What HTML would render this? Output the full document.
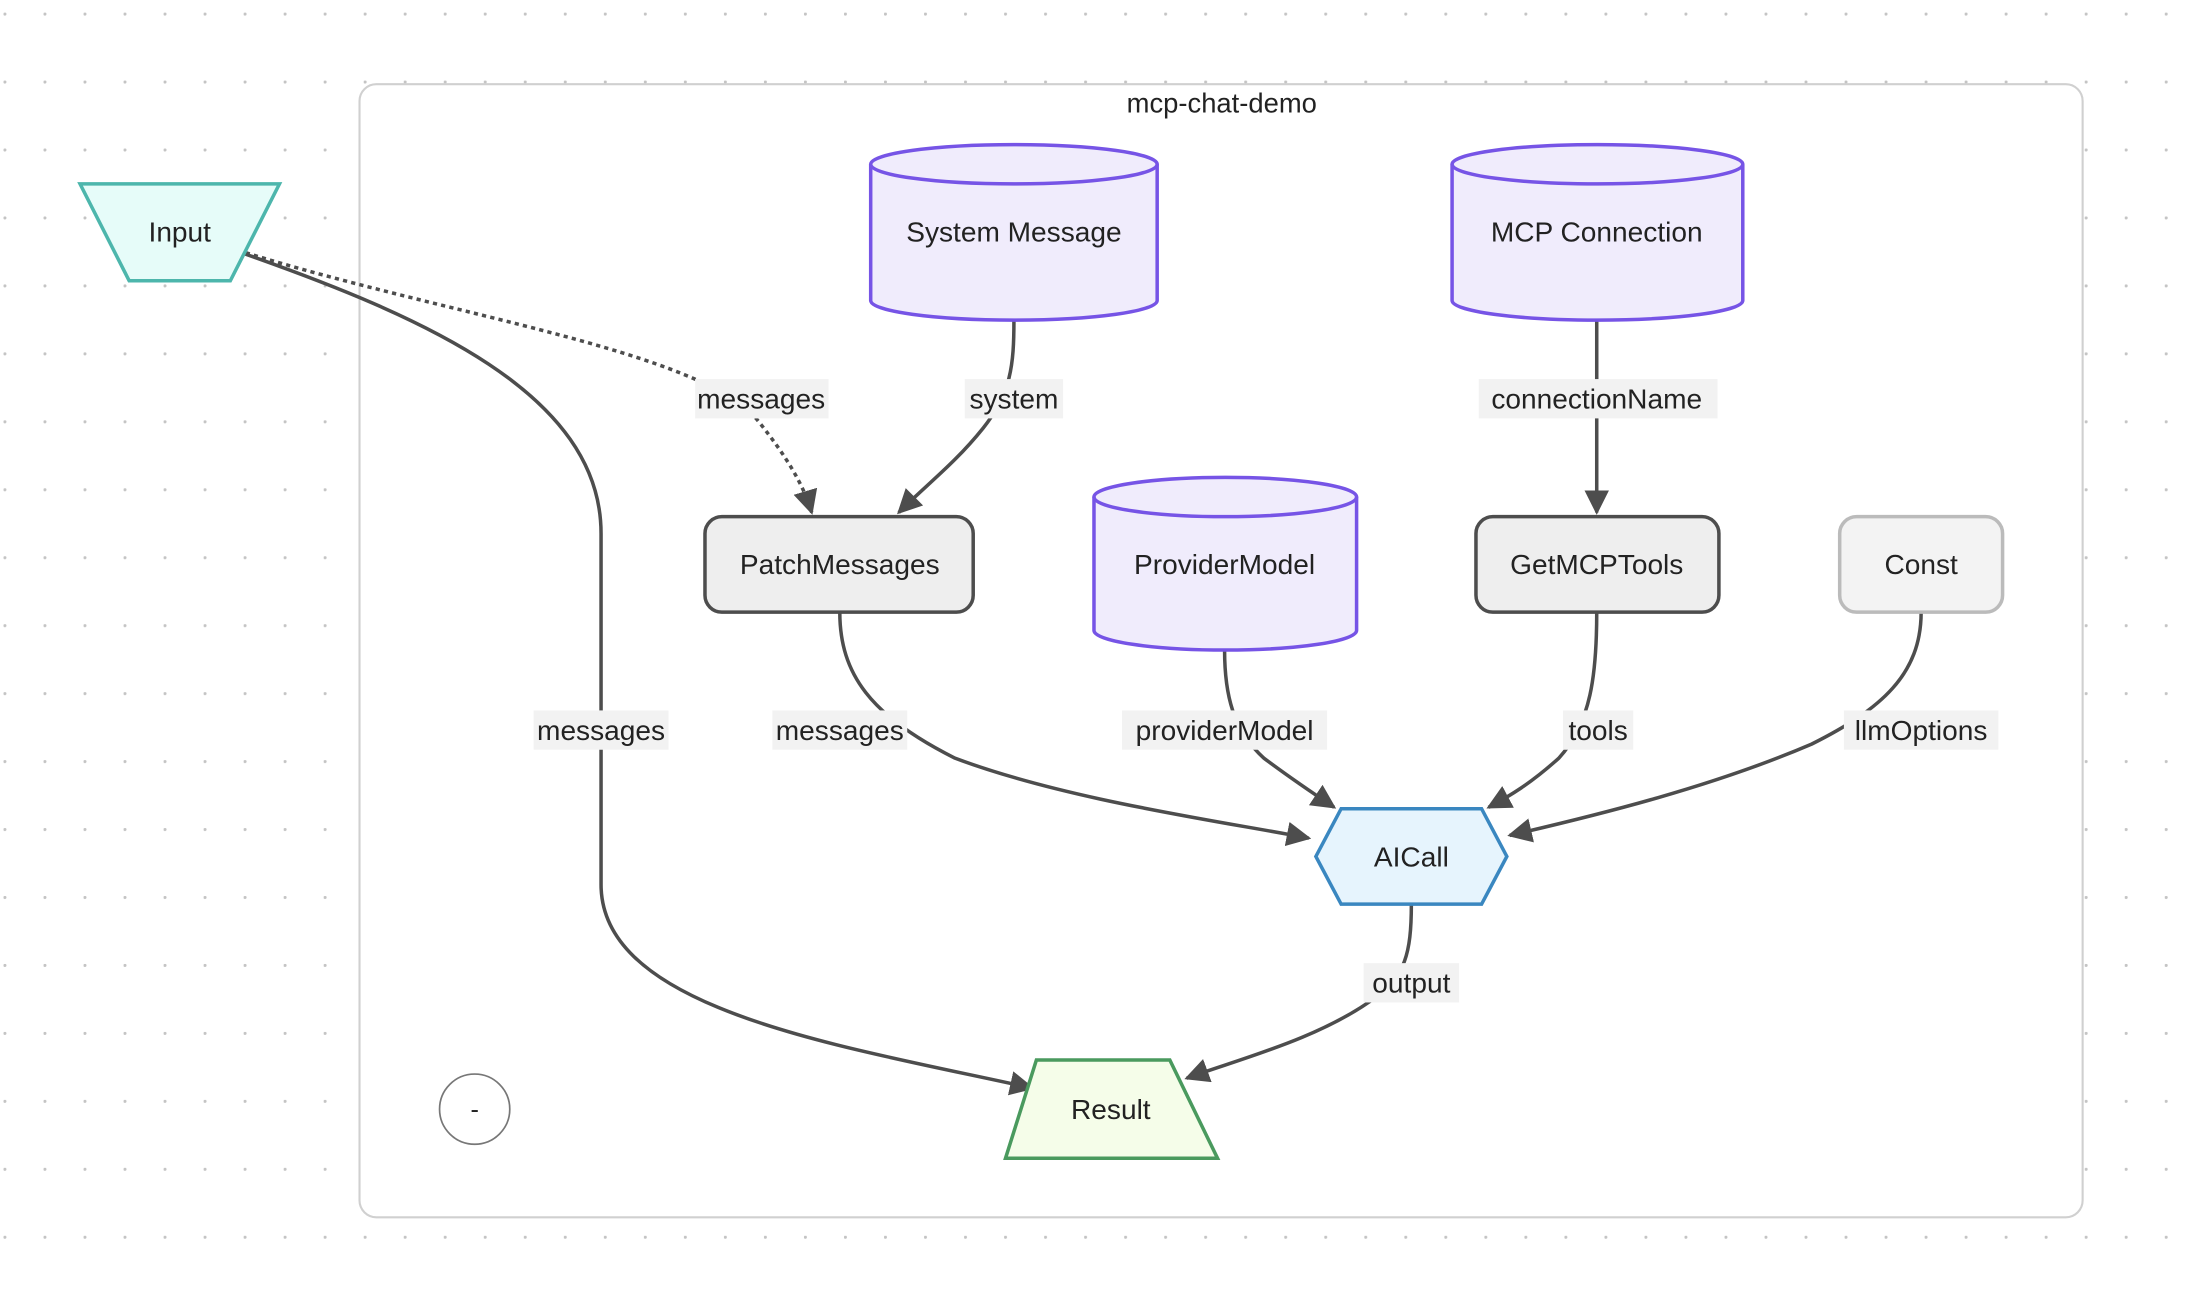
<!DOCTYPE html>
<html><head><meta charset="utf-8"><style>
html,body{margin:0;padding:0;background:#fff;}
svg{display:block;}
text{font-family:"Liberation Sans",sans-serif;fill:#222;}
</style></head><body>
<svg width="2202" height="1298" viewBox="0 0 1568 924.5" preserveAspectRatio="none" xmlns="http://www.w3.org/2000/svg">
<defs>
<pattern id="dots" x="2.5" y="9" width="28.5" height="48.4" patternUnits="userSpaceOnUse">
<circle cx="1" cy="1" r="1.1" fill="#c4c4c4"/>
</pattern>
<marker id="arr" viewBox="0 0 10 10" refX="9" refY="5" markerWidth="7" markerHeight="7" orient="auto">
<path d="M0,0 L10,5 L0,10 z" fill="#4d4d4d"/>
</marker>
</defs>
<rect width="1568" height="924.5" fill="url(#dots)"/>
<rect x="256" y="60" width="1227" height="807" rx="12" fill="#fff" stroke="#d0d0d0" stroke-width="1.5"/>
<text x="870" y="80" font-size="19.5" text-anchor="middle">mcp-chat-demo</text>

<g fill="none" stroke="#4d4d4d" stroke-width="2.5">
<path d="M172,180 C300,225 428,280 428,380 L428,630 C428,720 600,745 735,775" marker-end="url(#arr)"/>
<path d="M175,180 C320,225 500,250 540,300 C560,325 572,345 578,365" stroke-dasharray="3,3" marker-end="url(#arr)"/>
<path d="M722,228 C722,260 720,280 700,305 C680,330 660,345 640,365" marker-end="url(#arr)"/>
<path d="M1137,228 L1137,365" marker-end="url(#arr)"/>
<path d="M598,436 C598,480 620,510 680,540 C760,570 870,585 932,597" marker-end="url(#arr)"/>
<path d="M872,463 C872,495 878,520 900,540 C920,555 935,565 950,575" marker-end="url(#arr)"/>
<path d="M1137,436 C1137,480 1133,515 1110,540 C1090,558 1075,567 1060,575" marker-end="url(#arr)"/>
<path d="M1368,436 C1368,480 1340,505 1290,530 C1220,560 1140,580 1075,595" marker-end="url(#arr)"/>
<path d="M1005,644 C1005,680 1000,695 980,710 C940,740 880,755 845,768" marker-end="url(#arr)"/>
</g>

<polygon points="57,131 199,131 164,200 92,200" fill="#e6fcf9" stroke="#4db6ac" stroke-width="2.5"/>
<text x="128" y="172" font-size="20" text-anchor="middle">Input</text>

<g fill="#f0ecfc" stroke="#7654e6" stroke-width="2.5">
<path d="M620,117 A102,14 0 0 1 824,117 L824,214 A102,14 0 0 1 620,214 Z"/>
<path d="M620,117 A102,14 0 0 0 824,117" fill="none"/>
<path d="M1034,117 A103.5,14 0 0 1 1241,117 L1241,214 A103.5,14 0 0 1 1034,214 Z"/>
<path d="M1034,117 A103.5,14 0 0 0 1241,117" fill="none"/>
<path d="M779,354 A93.5,14 0 0 1 966,354 L966,449 A93.5,14 0 0 1 779,449 Z"/>
<path d="M779,354 A93.5,14 0 0 0 966,354" fill="none"/>
</g>
<text x="722" y="172" font-size="20" text-anchor="middle">System Message</text>
<text x="1137" y="172" font-size="20" text-anchor="middle">MCP Connection</text>
<text x="872" y="409" font-size="20" text-anchor="middle">ProviderModel</text>

<rect x="502" y="368" width="191" height="68" rx="12" fill="#eeeeee" stroke="#4d4d4d" stroke-width="2.5"/>
<text x="598" y="409" font-size="20" text-anchor="middle">PatchMessages</text>
<rect x="1051" y="368" width="173" height="68" rx="12" fill="#eeeeee" stroke="#4d4d4d" stroke-width="2.5"/>
<text x="1137" y="409" font-size="20" text-anchor="middle">GetMCPTools</text>
<rect x="1310" y="368" width="116" height="68" rx="12" fill="#f3f3f3" stroke="#bbbbbb" stroke-width="2.5"/>
<text x="1368" y="409" font-size="20" text-anchor="middle">Const</text>

<polygon points="955,576 1055,576 1073,610 1055,644 955,644 937,610" fill="#e6f4fd" stroke="#3a87c0" stroke-width="2.5"/>
<text x="1005" y="617" font-size="20" text-anchor="middle">AICall</text>

<polygon points="738,755 833,755 867,825 716,825" fill="#f5fde9" stroke="#4a9a5e" stroke-width="2.5"/>
<text x="791" y="797" font-size="20" text-anchor="middle">Result</text>

<circle cx="338" cy="790" r="25" fill="#fff" stroke="#777" stroke-width="1.2"/>
<text x="338" y="796" font-size="18" text-anchor="middle">-</text>

<g fill="#f2f2f2">
<rect x="495" y="270" width="95" height="28"/>
<rect x="687" y="270" width="70" height="28"/>
<rect x="1053" y="270" width="170" height="28"/>
<rect x="380" y="506" width="96" height="28"/>
<rect x="550" y="506" width="96" height="28"/>
<rect x="799" y="506" width="146" height="28"/>
<rect x="1113" y="506" width="50" height="28"/>
<rect x="1313" y="506" width="110" height="28"/>
<rect x="971" y="686" width="68" height="28"/>
</g>
<g font-size="20" text-anchor="middle">
<text x="542" y="291">messages</text>
<text x="722" y="291">system</text>
<text x="1137" y="291">connectionName</text>
<text x="428" y="527">messages</text>
<text x="598" y="527">messages</text>
<text x="872" y="527">providerModel</text>
<text x="1138" y="527">tools</text>
<text x="1368" y="527">llmOptions</text>
<text x="1005" y="707">output</text>
</g>
</svg>
</body></html>
